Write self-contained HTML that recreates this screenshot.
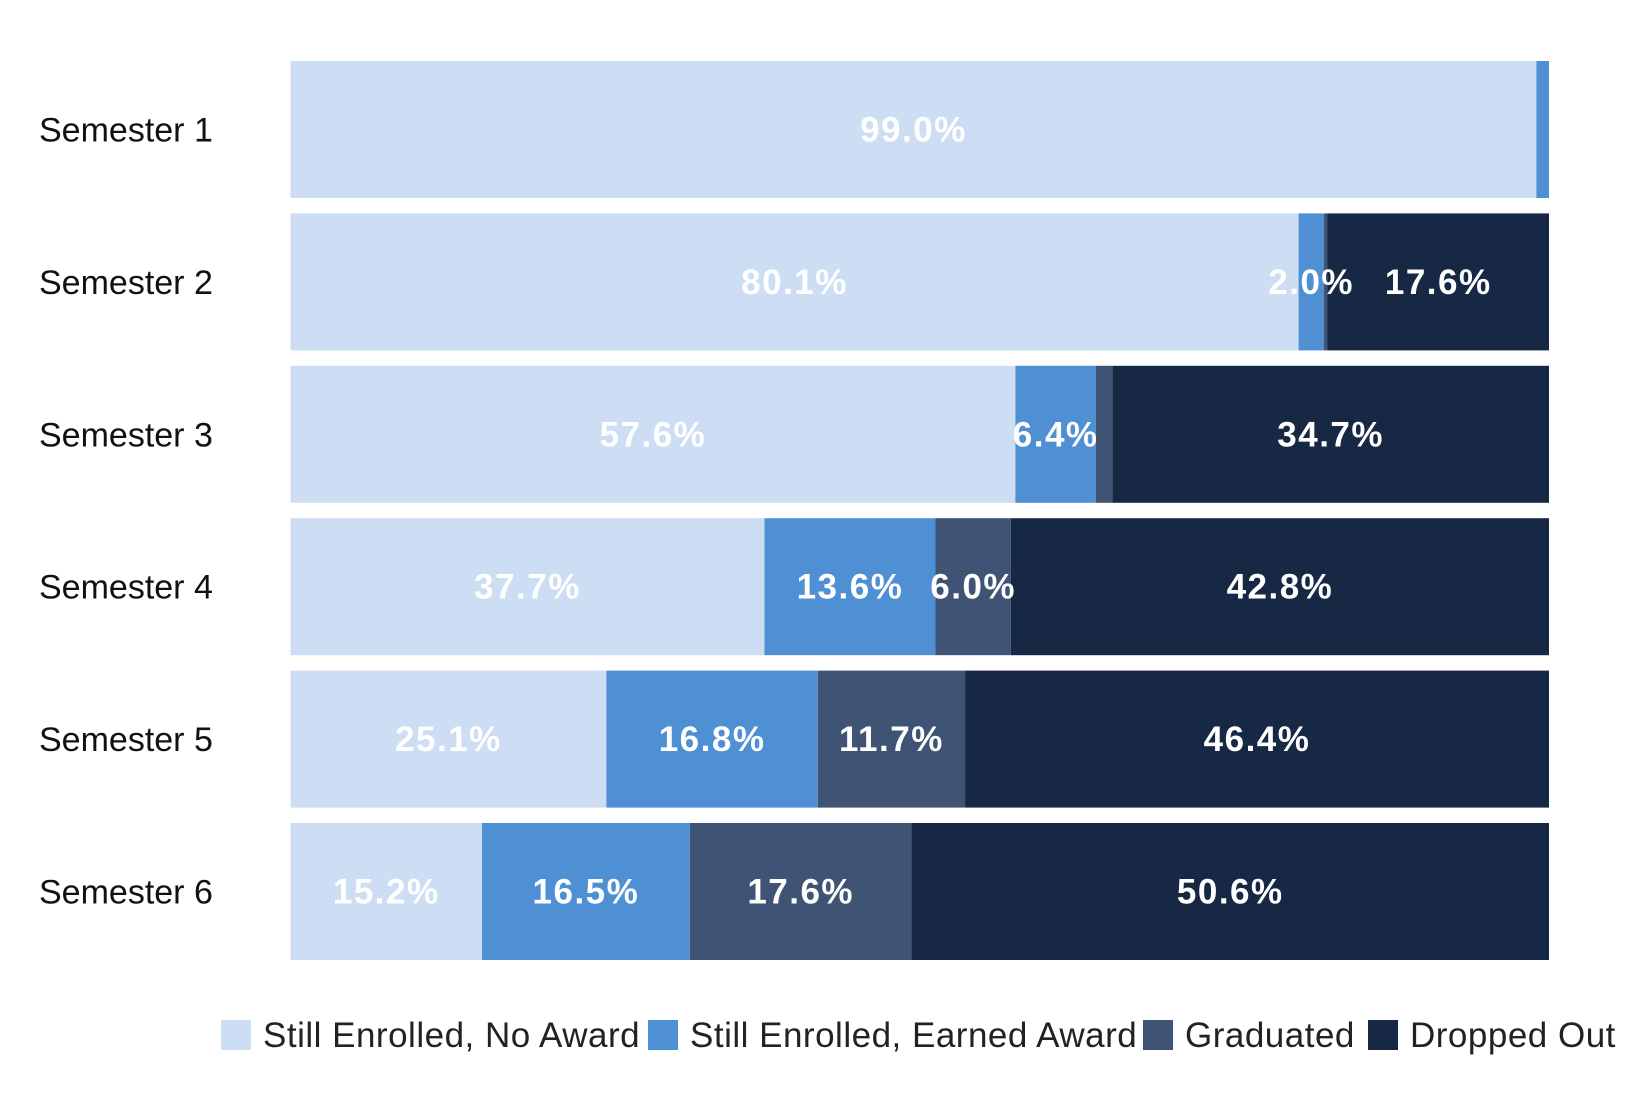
<!DOCTYPE html>
<html><head><meta charset="utf-8"><style>
html,body{margin:0;padding:0;background:#fff;}
svg{display:block;font-family:"Liberation Sans",sans-serif;}
</style></head><body>
<svg id="chart" width="1650" height="1100"></svg>
<script>
const categories = ["Semester 1","Semester 2","Semester 3","Semester 4","Semester 5","Semester 6"];
const seriesNames = ["Still Enrolled, No Award","Still Enrolled, Earned Award","Graduated","Dropped Out"];
const noAward = [99.0, 80.1, 57.6, 37.7, 25.1, 15.2];
const earnedAward = [1.0, 2.0, 6.4, 13.6, 16.8, 16.5];
const graduated = [0, 0.3, 1.3, 6.0, 11.7, 17.6];
const droppedOut = [0, 17.6, 34.7, 42.8, 46.4, 50.6];
const colors = ["#cddef4","#4f90d4","#3f5475","#162843"];
const series = [noAward, earnedAward, graduated, droppedOut];
const NS = "http://www.w3.org/2000/svg";
const svg = document.getElementById("chart");
const x0 = 290.5, x1 = 1549, top0 = 61, pitch = 152.4, barH = 137;
function mk(tag, attrs){const e=document.createElementNS(NS,tag);for(const k in attrs)e.setAttribute(k,attrs[k]);svg.appendChild(e);return e;}
const labels = [];
categories.forEach((cat,i)=>{
  const y = top0 + i*pitch;
  const total = series.reduce((s,a)=>s+a[i],0);
  const xs = v => (x1-x0)*v/total;
  const lab = mk("text",{x:39,y:y+barH/2+12,"font-size":34,fill:"#111"});
  lab.textContent = cat;
  
  
  let cx = x0;
  series.forEach((arr,j)=>{
    const w = xs(arr[i]);
    if(w<=0) return;
    const r = mk("rect",{x:cx,y:y,width:w,height:barH,fill:colors[j]});
    
    
    if(arr[i]>=2) labels.push({x:cx+w/2,y:y+barH/2+12,v:arr[i]});
    cx += w;
  });
});
labels.forEach(l=>{
  const t = mk("text",{x:l.x,y:l.y,"font-size":35,"font-weight":"bold",fill:"#fff","text-anchor":"middle","letter-spacing":1.5});
  t.textContent = l.v.toFixed(1)+"%";
  
  
});
const legSw = [221, 648, 1143, 1368];
seriesNames.forEach((n,j)=>{
  const s = mk("rect",{x:legSw[j],y:1020,width:30,height:30,fill:colors[j]});
  
  
  const t = mk("text",{x:legSw[j]+42,y:1047,"font-size":35,fill:"#222","letter-spacing":0.5});
  t.textContent = n;
  
  
});
</script>
</body></html>
